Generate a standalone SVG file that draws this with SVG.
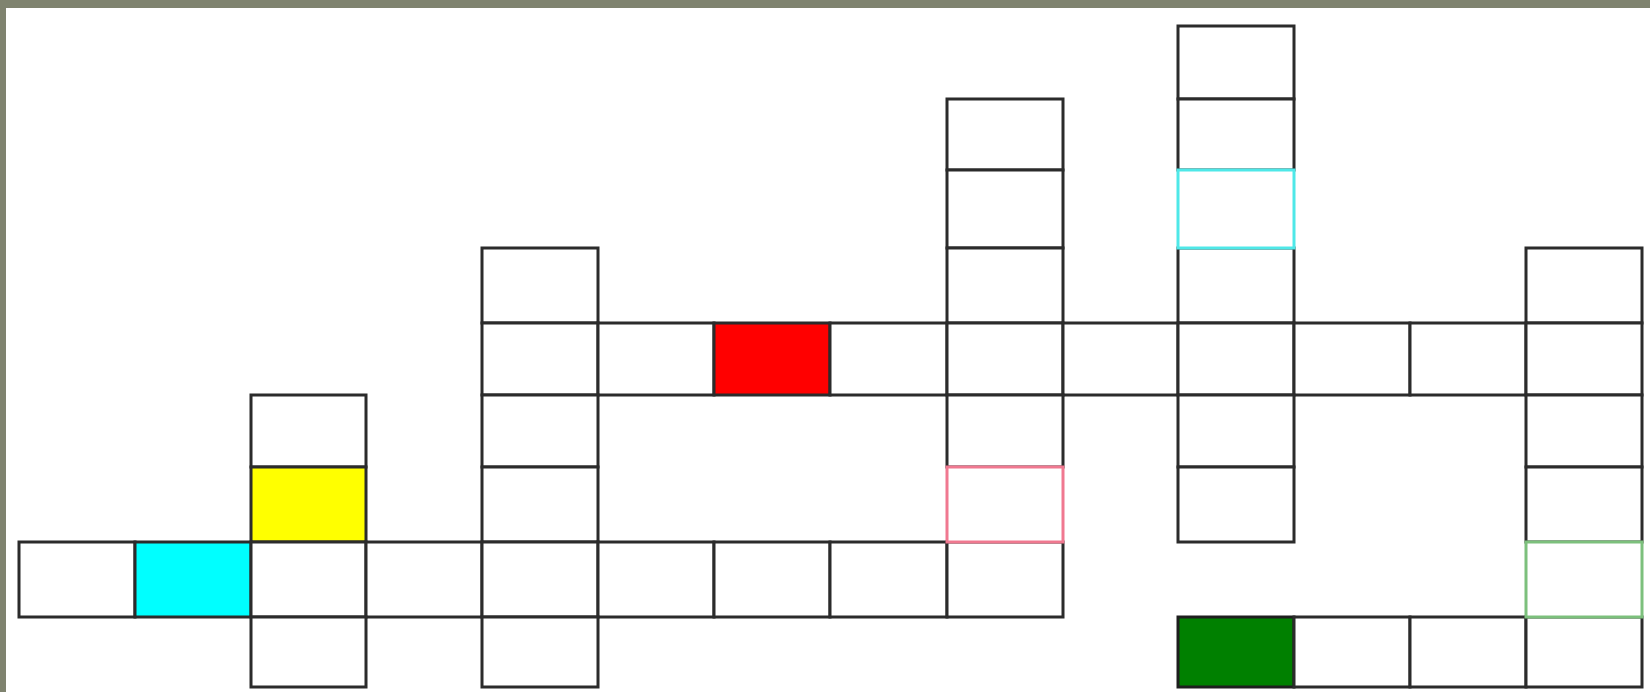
<svg xmlns="http://www.w3.org/2000/svg" width="1650" height="692" viewBox="0 0 1650 692">
<style>
.c{fill:#fff;stroke:#2b2b2b;stroke-width:3}
.red{fill:#ff0000;stroke:#2b2b2b;stroke-width:3}
.yel{fill:#ffff00;stroke:#2b2b2b;stroke-width:3}
.cya{fill:#00ffff;stroke:#2b2b2b;stroke-width:3}
.grn{fill:#008000;stroke:#1e1e1e;stroke-width:3}
.ocya{fill:#fff;stroke:#4ee8e8;stroke-width:3}
.opnk{fill:#fff;stroke:#f07890;stroke-width:3}
.ogrn{fill:#fff;stroke:#7cc07c;stroke-width:3}
</style>
<rect x="0" y="0" width="1650" height="692" fill="#7f836f"/>
<rect x="6" y="8" width="1644" height="684" fill="#ffffff"/>
<g id="grid">
<g id="r0c10"><rect class="c" x="1178" y="26" width="116" height="73"/></g>
<g id="r1c8"><rect class="c" x="947" y="99" width="116" height="71"/></g>
<g id="r1c10"><rect class="c" x="1178" y="99" width="116" height="71"/></g>
<g id="r2c8"><rect class="c" x="947" y="170" width="116" height="78"/></g>
<g id="r3c4"><rect class="c" x="482" y="248" width="116" height="75"/></g>
<g id="r3c8"><rect class="c" x="947" y="248" width="116" height="75"/></g>
<g id="r3c10"><rect class="c" x="1178" y="248" width="116" height="75"/></g>
<g id="r3c13"><rect class="c" x="1526" y="248" width="116" height="75"/></g>
<g id="r4c4"><rect class="c" x="482" y="323" width="116" height="72"/></g>
<g id="r4c5"><rect class="c" x="598" y="323" width="116" height="72"/></g>
<g id="r4c6"><rect class="red" x="714" y="323" width="116" height="72"/></g>
<g id="r4c7"><rect class="c" x="830" y="323" width="117" height="72"/></g>
<g id="r4c8"><rect class="c" x="947" y="323" width="116" height="72"/></g>
<g id="r4c9"><rect class="c" x="1063" y="323" width="115" height="72"/></g>
<g id="r4c10"><rect class="c" x="1178" y="323" width="116" height="72"/></g>
<g id="r4c11"><rect class="c" x="1294" y="323" width="116" height="72"/></g>
<g id="r4c12"><rect class="c" x="1410" y="323" width="116" height="72"/></g>
<g id="r4c13"><rect class="c" x="1526" y="323" width="116" height="72"/></g>
<g id="r5c2"><rect class="c" x="251" y="395" width="115" height="72"/></g>
<g id="r5c4"><rect class="c" x="482" y="395" width="116" height="72"/></g>
<g id="r5c8"><rect class="c" x="947" y="395" width="116" height="72"/></g>
<g id="r5c10"><rect class="c" x="1178" y="395" width="116" height="72"/></g>
<g id="r5c13"><rect class="c" x="1526" y="395" width="116" height="72"/></g>
<g id="r6c2"><rect class="yel" x="251" y="467" width="115" height="75"/></g>
<g id="r6c4"><rect class="c" x="482" y="467" width="116" height="75"/></g>
<g id="r6c10"><rect class="c" x="1178" y="467" width="116" height="75"/></g>
<g id="r6c13"><rect class="c" x="1526" y="467" width="116" height="75"/></g>
<g id="r7c0"><rect class="c" x="19" y="542" width="116" height="75"/></g>
<g id="r7c1"><rect class="cya" x="135" y="542" width="116" height="75"/></g>
<g id="r7c2"><rect class="c" x="251" y="542" width="115" height="75"/></g>
<g id="r7c3"><rect class="c" x="366" y="542" width="116" height="75"/></g>
<g id="r7c4"><rect class="c" x="482" y="542" width="116" height="75"/></g>
<g id="r7c5"><rect class="c" x="598" y="542" width="116" height="75"/></g>
<g id="r7c6"><rect class="c" x="714" y="542" width="116" height="75"/></g>
<g id="r7c7"><rect class="c" x="830" y="542" width="117" height="75"/></g>
<g id="r7c8"><rect class="c" x="947" y="542" width="116" height="75"/></g>
<g id="r8c2"><rect class="c" x="251" y="617" width="115" height="70"/></g>
<g id="r8c4"><rect class="c" x="482" y="617" width="116" height="70"/></g>
<g id="r8c10"><rect class="grn" x="1178" y="617" width="116" height="70"/></g>
<g id="r8c11"><rect class="c" x="1294" y="617" width="116" height="70"/></g>
<g id="r8c12"><rect class="c" x="1410" y="617" width="116" height="70"/></g>
<g id="r8c13"><rect class="c" x="1526" y="617" width="116" height="70"/></g>
<g id="r2c10"><rect class="ocya" x="1178" y="170" width="116" height="78"/></g>
<g id="r6c8"><rect class="opnk" x="947" y="467" width="116" height="75"/></g>
<g id="r7c13"><rect class="ogrn" x="1526" y="542" width="116" height="75"/></g>
</g>
</svg>
